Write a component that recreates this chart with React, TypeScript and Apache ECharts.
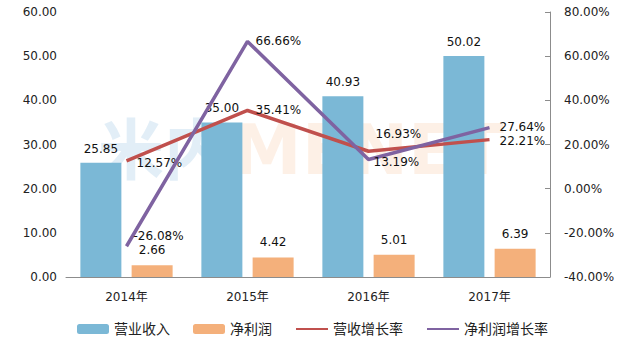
import React, { useEffect, useRef } from "react";
import * as echarts from "echarts";

const categories = ["2014年", "2015年", "2016年", "2017年"];
const revenue = [25.85, 35.0, 40.93, 50.02];
const netProfit = [2.66, 4.42, 5.01, 6.39];
const revenueGrowth = [12.57, 35.41, 16.93, 22.21];
const profitGrowth = [-26.08, 66.66, 13.19, 27.64];
const revenueGrowthOffsets = [[5, 2], [3, 0], [2, -17], [5, 1]];
const profitGrowthOffsets = [[2, -10], [3, 0], [0, 2], [5, -1]];

const FONT = "'DejaVu Sans', 'Noto Sans CJK SC', sans-serif";

export default function App() {
  const ref = useRef<HTMLDivElement>(null);
  useEffect(() => {
    if (!ref.current) return;
    const chart = echarts.init(ref.current, undefined, { renderer: "svg" });
    const lineLabel = (vals: number[], offs: number[][]) =>
      vals.map((v, i) => ({
        value: v,
        label: {
          show: true,
          position: "right",
          offset: offs[i],
          formatter: (p: any) => Number(p.value).toFixed(2) + "%",
          color: "#111",
          fontSize: 12,
          fontFamily: FONT,
        },
      }));
    chart.setOption({
      animation: false,
      backgroundColor: "#fff",
      textStyle: { fontFamily: FONT },
      graphic: [
        {
          type: "text",
          left: 98,
          top: 112,
          z: 0,
          style: {
            text: "米内",
            font: "bold 66px 'Noto Sans CJK SC', sans-serif",
            fill: "rgba(110,170,215,0.2)",
          },
        },
        {
          type: "text",
          left: 232,
          top: 115,
          z: 0,
          style: {
            text: "MENET",
            font: "bold 70px 'DejaVu Sans', sans-serif",
            fill: "rgba(245,160,100,0.16)",
          },
        },
      ],
      grid: { left: 66, right: 75, top: 12, bottom: 83 },
      legend: {
        bottom: 19,
        left: "center",
        itemWidth: 32,
        itemHeight: 10,
        itemGap: 23,
        textStyle: { fontSize: 14, color: "#222", fontFamily: FONT },
        data: [
          { name: "营业收入" },
          { name: "净利润" },
          { name: "营收增长率", itemStyle: { opacity: 0 } },
          { name: "净利润增长率", itemStyle: { opacity: 0 } },
        ],
      },
      xAxis: {
        type: "category",
        data: categories,
        axisLine: { lineStyle: { color: "#8c8c8c", width: 1 } },
        axisTick: { show: false },
        axisLabel: { color: "#222", fontSize: 12, margin: 14, fontFamily: FONT },
      },
      yAxis: [
        {
          type: "value",
          min: 0,
          max: 60,
          interval: 10,
          axisLine: { show: false },
          axisTick: { show: false },
          splitLine: { show: false },
          axisLabel: {
            color: "#222",
            fontSize: 12,
            margin: 9,
            fontFamily: FONT,
            formatter: (v: number) => v.toFixed(2),
          },
        },
        {
          type: "value",
          min: -40,
          max: 80,
          interval: 20,
          position: "right",
          axisLine: { show: true, lineStyle: { color: "#8c8c8c" } },
          axisTick: { show: true, inside: true, length: 5, lineStyle: { color: "#8c8c8c" } },
          splitLine: { show: false },
          axisLabel: {
            color: "#222",
            fontSize: 12,
            margin: 14,
            fontFamily: FONT,
            formatter: (v: number) => v.toFixed(2) + "%",
          },
        },
      ],
      series: [
        {
          name: "营业收入",
          type: "bar",
          data: revenue,
          barWidth: 41,
          barGap: "25%",
          itemStyle: { color: "#7bb8d6" },
          label: {
            show: true,
            position: "top",
            distance: 8,
            color: "#111",
            fontSize: 12,
            fontFamily: FONT,
            formatter: (p: any) => Number(p.value).toFixed(2),
          },
        },
        {
          name: "净利润",
          type: "bar",
          data: netProfit,
          barWidth: 41,
          barGap: "25%",
          itemStyle: { color: "#f4b07b" },
          label: {
            show: true,
            position: "top",
            distance: 9,
            color: "#111",
            fontSize: 12,
            fontFamily: FONT,
            formatter: (p: any) => Number(p.value).toFixed(2),
          },
        },
        {
          name: "营收增长率",
          type: "line",
          yAxisIndex: 1,
          symbol: "circle",
          symbolSize: 0,
          showSymbol: true,
          data: lineLabel(revenueGrowth, revenueGrowthOffsets),
          lineStyle: { color: "#c0504d", width: 3.5 },
          itemStyle: { color: "#c0504d" },
          z: 3,
        },
        {
          name: "净利润增长率",
          type: "line",
          yAxisIndex: 1,
          symbol: "circle",
          symbolSize: 0,
          showSymbol: true,
          data: lineLabel(profitGrowth, profitGrowthOffsets),
          lineStyle: { color: "#7f63a1", width: 3.5 },
          itemStyle: { color: "#7f63a1" },
          z: 4,
        },
      ],
    });
    return () => chart.dispose();
  }, []);
  return (
    <div
      ref={ref}
      style={{ position: "fixed", left: 0, top: 0, width: 625, height: 360 }}
    />
  );
}
